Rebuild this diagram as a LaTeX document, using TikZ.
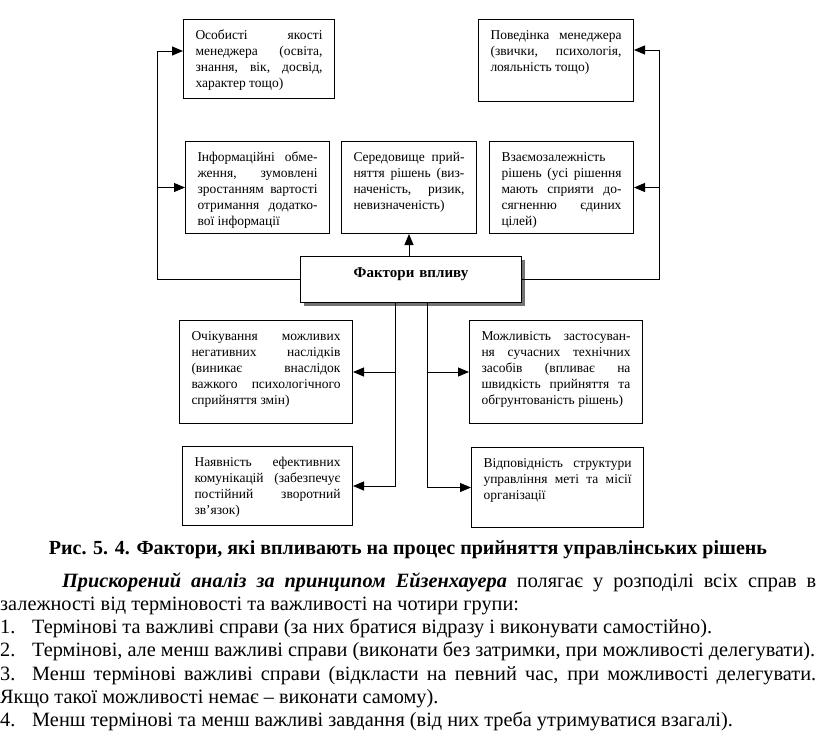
\documentclass[tikz,border=0pt]{standalone}
\usepackage{fontspec}
\setmainfont{Liberation Serif}
\usetikzlibrary{arrows.meta, shadows}

\begin{document}
\begin{tikzpicture}[
    x=1pt, y=-1pt,
    every node/.style={font=\fontsize{13.5}{16}\selectfont},
    box/.style={draw, line width=1pt, anchor=north west, align=justify, inner xsep=12pt, inner ysep=0pt, text height=20pt},
    mainbox/.style={draw, line width=1pt, fill=white, anchor=north west, align=center, inner sep=0pt,
      font=\fontsize{15}{18}\selectfont\bfseries,
      drop shadow={shadow xshift=3pt, shadow yshift=-3pt, fill=black!55, opacity=1}},
    link/.style={line width=1pt, -{Triangle[length=11pt, width=9pt]}},
  ]
    \useasboundingbox (0,0) rectangle (816,755);

    % upper row
    \node[box, text width=127pt, text depth=59pt] (quality) at (183,19)
      {Особисті якості\linebreak менеджера (освіта,\linebreak знання, вік, досвід,\linebreak характер тощо)};
    \node[box, text width=131pt, text depth=62pt] (behaviour) at (478,19)
      {Поведінка менеджера\linebreak (звички, психологія,\linebreak лояльність тощо)};

    % middle row
    \node[box, text width=120pt, text depth=72pt] (info) at (185,141)
      {Інформаційні обме-\linebreak ження, зумовлені\linebreak зростанням вартості\linebreak отримання додатко-\linebreak вої інформації};
    \node[box, text width=111pt, text depth=72pt] (envir) at (341,141)
      {Середовище прий-\linebreak няття рішень (виз-\linebreak наченість, ризик,\linebreak невизначеність)};
    \node[box, text width=120pt, text depth=72pt] (interdep) at (489,141)
      {Взаємозалежність\linebreak рішень (усі рішення\linebreak мають сприяти до-\linebreak сягненню єдиних\linebreak цілей)};

    % centre
    \node[mainbox, text width=221pt, text height=21pt, text depth=25pt] (factors) at (300,256) {Фактори впливу};

    % lower rows
    \node[box, text width=149pt, text depth=83pt] (expect) at (179,320)
      {Очікування можливих\linebreak негативних наслідків\linebreak (виникає внаслідок\linebreak важкого психологічного\linebreak сприйняття змін)};
    \node[box, text width=149pt, text depth=83pt] (tech) at (469,320)
      {Можливість застосуван-\linebreak ня сучасних технічних\linebreak засобів (впливає на\linebreak швидкість прийняття та\linebreak обгрунтованість рішень)};
    \node[box, text width=146pt, text depth=59pt] (commun) at (182,446)
      {Наявність ефективних\linebreak комунікацій (забезпечує\linebreak постійний зворотний\linebreak зв’язок)};
    \node[box, text width=148pt, text depth=60pt] (struct) at (471,447)
      {Відповідність структури\linebreak управління меті та місії\linebreak організації};

    % connectors
    \coordinate (lup) at (157,51);
    \coordinate (rup) at (659,50);
    \coordinate (ldown) at (395,302);
    \coordinate (rdown) at (427,302);
    \draw[link] (factors.west) -| (lup) -- (lup -| quality.west);
    \draw[link] (lup |- info.west) -- (info.west);
    \draw[link] (factors.east) -| (rup) -- (rup -| behaviour.east);
    \draw[link] (rup |- interdep.east) -- (interdep.east);
    \draw[link] (factors.north -| envir.south) -- (envir.south);
    \draw[link] (ldown) |- (commun.east);
    \draw[link] (ldown |- expect.east) -- (expect.east);
    \draw[link] (rdown) |- (struct.west);
    \draw[link] (rdown |- tech.west) -- (tech.west);

    % caption and text
    \node[anchor=base, inner sep=0pt, font=\fontsize{20}{23}\selectfont\bfseries] (caption) at (408,554)
      {Рис. 5. 4. Фактори, які впливають на процес прийняття управлінських рішень};
    \node[anchor=base west, inner sep=0pt, text width=816pt, align=justify, font=\fontsize{20.3}{23.3}\selectfont] (body) at (0,587)
      {\hspace*{62pt}\textbf{\textit{Прискорений аналіз за принципом Ейзенхауера}} полягає у розподілі всіх справ в\linebreak
       залежності від терміновості та важливості на чотири групи:\par
       \makebox[32pt][l]{1.}Термінові та важливі справи (за них братися відразу і виконувати самостійно).\par
       \makebox[32pt][l]{2.}Термінові, але менш важливі справи (виконати без затримки, при можливості делегувати).\par
       \makebox[32pt][l]{3.}Менш термінові важливі справи (відкласти на певний час, при можливості делегувати.\linebreak
       Якщо такої можливості немає – виконати самому).\par
       \makebox[32pt][l]{4.}Менш термінові та менш важливі завдання (від них треба утримуватися взагалі).};
\end{tikzpicture}
\end{document}
